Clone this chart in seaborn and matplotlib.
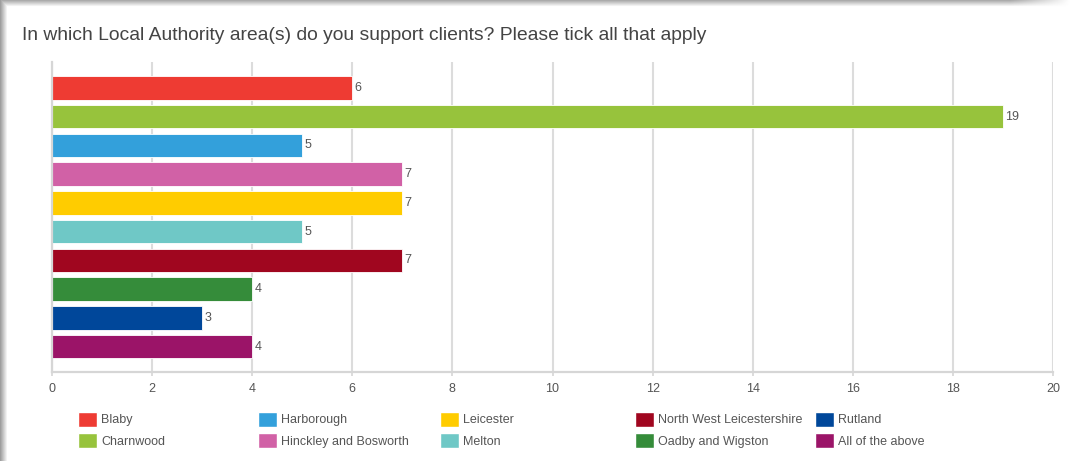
import numpy as np
import matplotlib
matplotlib.use("Agg")
import matplotlib.pyplot as plt
from matplotlib.patches import Patch
import seaborn as sns

categories = ["Blaby", "Charnwood", "Harborough", "Hinckley and Bosworth", "Leicester",
              "Melton", "North West Leicestershire", "Oadby and Wigston", "Rutland",
              "All of the above"]
counts = [6, 19, 5, 7, 7, 5, 7, 4, 3, 4]
colors = ["#EE3B33", "#97C33C", "#33A0DB", "#D161A6", "#FFCC00",
          "#6FC8C6", "#A0061F", "#358C3A", "#00479A", "#9B1468"]
x_ticks = list(range(0, 21, 2))
title = "In which Local Authority area(s) do you support clients? Please tick all that apply"

sns.set_theme(style="white")
plt.rcParams["font.family"] = ["Liberation Sans", "DejaVu Sans"]

W, H = 1075, 461
fig = plt.figure(figsize=(W / 100, H / 100), dpi=100)

# card background with a soft shadow along the top and left edges
bg_ax = fig.add_axes([0, 0, 1, 1], zorder=-10)
yy, xx = np.mgrid[0:H, 0:W]
top = np.clip(yy / 7.0, 0, 1)
left = np.clip(xx / 7.0, 0, 1)
fade_right = np.clip((1070 - xx) / 60.0, 0, 1)
top_band = 1 - (1 - (0.62 + 0.38 * top)) * fade_right
left_band = 0.62 + 0.38 * left
shade = np.minimum(top_band, left_band)
bg_ax.imshow(shade, cmap="gray", vmin=0, vmax=1, aspect="auto",
             extent=[0, W, H, 0], interpolation="bilinear")
bg_ax.set_axis_off()

ax = fig.add_axes([52 / W, 1 - 372 / H, (1053 - 52) / W, (372 - 62) / H])
ax.patch.set_alpha(0)

sns.barplot(x=counts, y=categories, hue=categories, palette=colors, orient="h",
            dodge=False, legend=False, width=0.82, saturation=1,
            edgecolor="#ffffff", linewidth=0.6, ax=ax)

for i, v in enumerate(counts):
    ax.text(v + 0.04, i, str(v), va="center", ha="left", fontsize=9, color="#555555")

ax.set_xlim(0, 20)
ax.set_ylim(9.88, -0.9)
ax.set_xticks(x_ticks)
ax.set_xticklabels([str(t) for t in x_ticks], fontsize=9, color="#555555")
ax.set_yticks([])
ax.set_ylabel("")
ax.set_xlabel("")
ax.grid(axis="x", color="#dcdcdc", linewidth=1.5, zorder=0)
ax.set_axisbelow(True)
ax.tick_params(axis="x", length=3, width=1.4, color="#dcdcdc", pad=5, bottom=True)
for side in ["top", "right"]:
    ax.spines[side].set_visible(False)
for side in ["left", "bottom"]:
    ax.spines[side].set_color("#d6d6d6")
    ax.spines[side].set_linewidth(1.6)

fig.text(22 / W, 1 - 35 / H, title, fontsize=13.9, color="#444444", va="center", ha="left")

# legend laid out as five two-row columns
col_x = [78, 258, 440, 635, 815]
for k, x0 in enumerate(col_x):
    hs = [Patch(facecolor=colors[j], edgecolor="#ffffff", label=categories[j])
          for j in (2 * k, 2 * k + 1)]
    fig.legend(handles=hs, ncol=1, loc="center left",
               bbox_to_anchor=(x0 / W, 1 - 430 / H), frameon=False, fontsize=9,
               labelcolor="#555555", handlelength=1.5, handleheight=1.5,
               handletextpad=0.35, labelspacing=0.5, borderaxespad=0, borderpad=0)

fig.savefig("out.png", dpi=100)
